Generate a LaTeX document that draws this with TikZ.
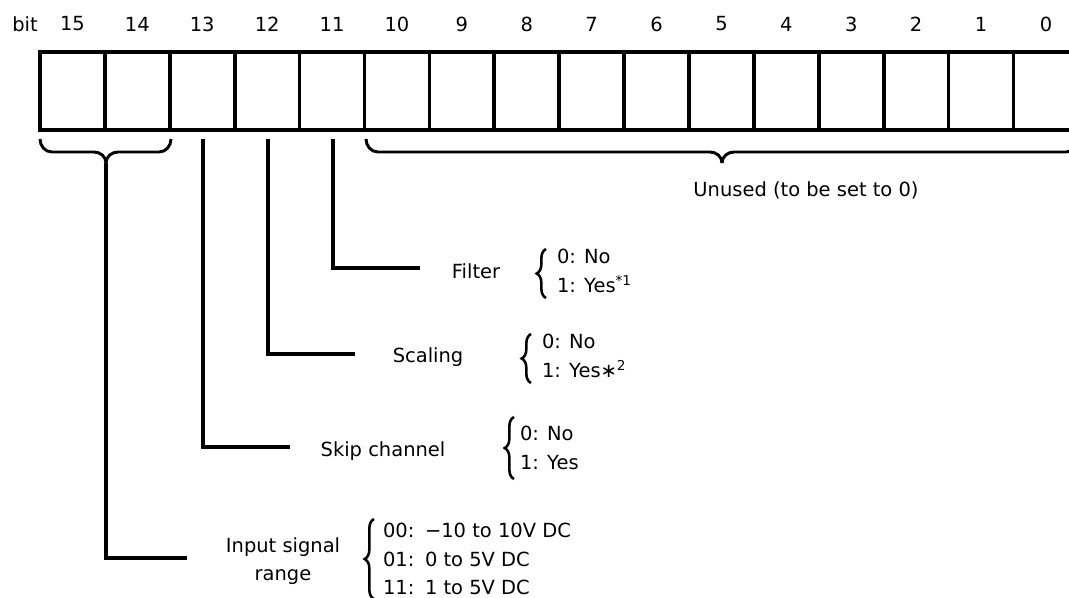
\documentclass[tikz,border=0pt]{standalone}
\usepackage{fontspec}
\setmainfont{DejaVu Sans}
\usetikzlibrary{decorations.pathreplacing}
\begin{document}
\begin{tikzpicture}[x=0.75pt,y=-0.75pt,
  txt/.style={font=\fontsize{14.6}{21.2}\selectfont, inner sep=0pt, outer sep=0pt},
  opts/.style={txt, align=left, anchor=west},
  cell/.style={draw, line width=2.8pt, minimum width=48.675pt, minimum height=58.5pt, inner sep=0pt, outer sep=0pt},
  conn/.style={line width=2.6pt},
  grp/.style={line width=2.2pt},
  cbrace/.style={decorate, decoration={brace, amplitude=7pt}, line width=1.9pt}]
\useasboundingbox (0,0) rectangle (1069,597);
% bit cells and numbers
\node[txt] (bitlbl) at (25,24) {bit};
\foreach \i in {15,...,0}{
  \node[cell] (b\i) at ({40+(15-\i)*64.9+32.45},91) {};
  \node[txt] (n\i) at ({40+(15-\i)*64.9+32.45},24) {\i};
}
% group braces under bits
\coordinate (tipA) at (106,163);
\coordinate (tipU) at (722,163);
\draw[grp] (40,139) to[out=-90,in=180] (52,152) -- (94,152) to[out=0,in=90] (tipA);
\draw[grp] (tipA) to[out=90,in=180] (118,152) -- (159,152) to[out=0,in=-90] (171,139);
\draw[grp] (366,139) to[out=-90,in=180] (378,152) -- (710,152) to[out=0,in=90] (tipU);
\draw[grp] (tipU) to[out=90,in=180] (734,152) -- (1066,152) to[out=0,in=-90] (1078,139);
\node[txt] (unused) at (806,190) {Unused (to be set to 0)};
% connector start points
\coordinate (s13) at (203,139);
\coordinate (s12) at (268,139);
\coordinate (s11) at (333,139);
\coordinate (eF) at (420,268);
\coordinate (eS) at (355,354);
\coordinate (eK) at (290,447);
\coordinate (eI) at (187,558);
\draw[conn] (s11) |- (eF);
\draw[conn] (s12) |- (eS);
\draw[conn] (s13) |- (eK);
\draw[conn] (tipA) |- (eI);
% labels
\node[txt] (filter) at (476,271) {Filter};
\node[txt] (scaling) at (428,357) {Scaling};
\node[txt] (skip) at (383,451) {Skip channel};
\node[txt, align=center] (input) at (283,561) {Input signal\\range};
% options
\draw[cbrace] (546,298) -- (546,249);
\node[opts] (oF) at (557,271) {0: No\\1: Yes\textsuperscript{*1}};
\draw[cbrace] (531,383) -- (531,334);
\node[opts] (oS) at (542,356) {0: No\\1: Yes∗\textsuperscript{2}};
\draw[cbrace] (514,479) -- (514,417);
\node[opts] (oK) at (520,448) {0: No\\1: Yes};
\draw[cbrace] (374,599) -- (374,519);
\node[opts] (oI) at (383,559) {00:\hspace{0.55em}−10 to 10V DC\\01:\hspace{0.55em}0 to 5V DC\\11:\hspace{0.55em}1 to 5V DC};
\end{tikzpicture}
\end{document}
